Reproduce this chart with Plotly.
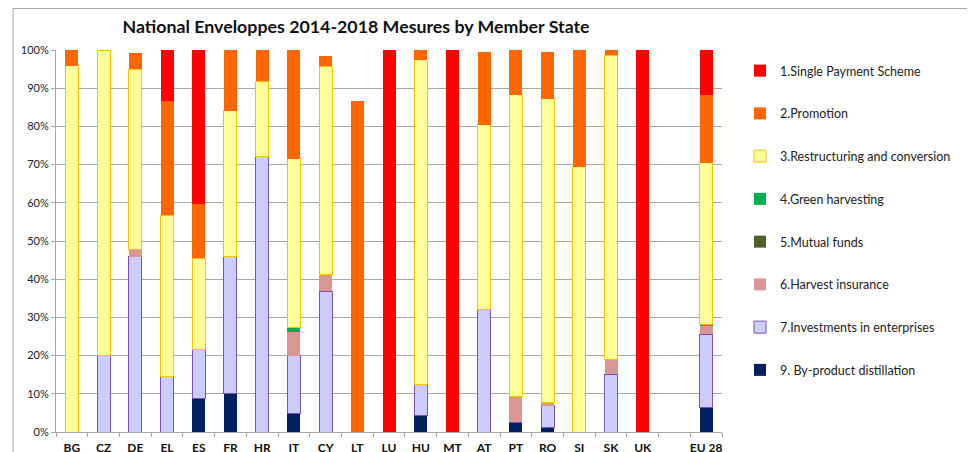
import plotly.graph_objects as go

categories = ["BG", "CZ", "DE", "EL", "ES", "FR", "HR", "IT", "CY", "LT", "LU",
              "HU", "MT", "AT", "PT", "RO", "SI", "SK", "UK", " ", "EU 28"]

# shares in % of national envelope
byproduct   = [0, 0, 0, 0, 8.8, 10.0, 0, 4.9, 0, 0, 0, 4.2, 0, 0, 2.5, 1.1, 0, 0, 0, None, 6.4]
investments = [0, 20.0, 45.9, 14.5, 12.9, 35.9, 72.0, 15.1, 36.8, 0, 0, 8.2, 0, 32.2, 0, 5.8, 0, 15.1, 0, None, 19.2]
insurance   = [0, 0, 2.0, 0, 0, 0, 0, 6.1, 4.4, 0, 0, 0, 0, 0, 6.7, 0.7, 0, 4.0, 0, None, 2.3]
mutual      = [0, 0, 0, 0, 0, 0, 0, 0, 0, 0, 0, 0, 0, 0, 0, 0, 0, 0, 0, None, 0]
green       = [0, 0, 0, 0, 0, 0, 0, 1.3, 0, 0, 0, 0, 0, 0, 0, 0, 0, 0, 0, None, 0.2]
restructuring = [95.9, 80.0, 47.1, 42.2, 23.8, 38.2, 19.8, 44.1, 54.6, 0, 0, 85.1, 0, 48.2, 79.1, 79.7, 69.4, 79.5, 0, None, 42.4]
promotion   = [4.1, 0, 4.3, 30.0, 14.1, 15.9, 8.2, 28.5, 2.5, 86.6, 0, 2.5, 0, 19.0, 11.7, 12.2, 30.6, 1.4, 0, None, 17.7]
single_payment = [0, 0, 0, 13.3, 40.4, 0, 0, 0, 0, 0, 100, 0, 100, 0, 0, 0, 0, 0, 100, None, 11.8]

series_names = ["9. By-product distillation", "7.Investments in enterprises",
                "6.Harvest insurance", "5.Mutual funds", "4.Green harvesting",
                "3.Restructuring and conversion", "2.Promotion", "1.Single Payment Scheme"]
series_values = [byproduct, investments, insurance, mutual, green,
                 restructuring, promotion, single_payment]
fills = ["#002060", "#CCCCFF", "#DA9694", "#4F6228", "#00B050", "#FFFF99", "#FF6600", "#FF0000"]
lines = ["#002060", "#7B52B9", "#DA9694", "#4F6228", "#00B050", "#FFC000", "#FF6600", "#FF0000"]
line_w = [0, 1, 0, 0, 0, 1, 0, 0]

FONT = "Lato, 'Open Sans', sans-serif"

# plot area in figure pixels
L, R, T, B = 48, 714, 42, 424
W, H = 975, 452
PH = B - T
PW = R - L

fig = go.Figure()
n = len(series_names)
for i, (name, vals, fc, lc, lw) in enumerate(zip(series_names, series_values, fills, lines, line_w)):
    fig.add_trace(go.Bar(
        x=categories, y=[None if v is None else v / 100 for v in vals], name=name,
        legendgroup=name, legendrank=n - i,
        marker=dict(color=fc, line=dict(color=lc, width=lw)),
    ))

fig.update_layout(
    width=W, height=H,
    barmode="stack", bargap=0.59,
    plot_bgcolor="white", paper_bgcolor="white",
    margin=dict(l=L, r=W - R, t=T, b=H - B, autoexpand=False),
    font=dict(family=FONT, color="#222222"),
    title=dict(text="<b>National Enveloppes 2014-2018 Mesures by Member State</b>",
               x=348 / W, xanchor="center", xref="container",
               y=1 - 19 / H, yanchor="middle", yref="container",
               font=dict(size=17.8, color="#111111", family=FONT)),
    legend=dict(traceorder="grouped", tracegroupgap=23.5,
                x=(732 - L) / PW, xanchor="left", y=1 - 6 / PH, yanchor="top",
                font=dict(size=12.5, color="#222222", family=FONT),
                bgcolor="rgba(0,0,0,0)"),
    showlegend=True,
)
fig.update_yaxes(range=[0, 1], tickvals=[i / 10 for i in range(11)], tickformat=".0%",
                 showgrid=True, gridcolor="#A6A6A6", gridwidth=1,
                 showline=True, linecolor="#A6A6A6", linewidth=1,
                 ticks="outside", ticklen=4, tickcolor="#A6A6A6", automargin=False,
                 tickfont=dict(size=11, color="#222222"), zeroline=False, fixedrange=True)
fig.update_xaxes(type="category", showline=True, linecolor="#A6A6A6", linewidth=1,
                 ticks="outside", ticklen=4, tickcolor="#A6A6A6", tickson="boundaries",
                 tickangle=0, automargin=False, ticklabelstandoff=5,
                 tickfont=dict(size=12, color="#111111", family=FONT),
                 tickprefix="<b>", ticksuffix="</b>", fixedrange=True)

# chart frame (top and left border of the chart area)
frame_top = (B - 0.5) / PH
frame_left = (5 - L) / PW
fig.add_shape(type="line", xref="paper", yref="paper",
              x0=frame_left, x1=(W - L) / PW, y0=frame_top, y1=frame_top,
              line=dict(color="#A6A6A6", width=1))
fig.add_shape(type="line", xref="paper", yref="paper",
              x0=frame_left, x1=frame_left, y0=frame_top, y1=-0.2,
              line=dict(color="#A6A6A6", width=1))

fig.write_html("out.html")
